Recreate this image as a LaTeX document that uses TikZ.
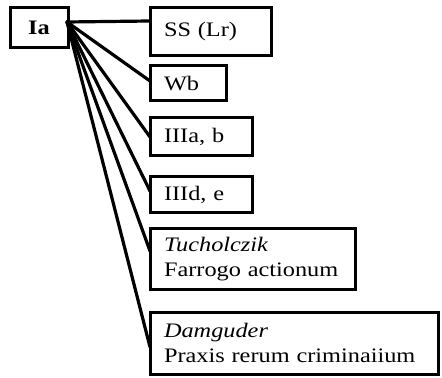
\documentclass[tikz,border=0pt]{standalone}
\usepackage{fontspec}
\setmainfont{Liberation Serif}[FakeStretch=1.18]
\usetikzlibrary{positioning}
\tikzset{
  tr/root/.style={rectangle, draw, line width=1.5pt, anchor=north west,
    outer sep=0pt, minimum width=29pt, minimum height=20pt,
    font=\fontsize{10.3}{12.5}\selectfont\bfseries},
  tr/box/.style={rectangle, draw, line width=1.5pt, anchor=north west,
    outer sep=0pt, align=left, inner ysep=0pt, inner xsep=7pt,
    font=\fontsize{10.3}{12.5}\selectfont},
  tr/link/.style={line width=1.6pt, line cap=round, line join=round}
}
\begin{document}
\begin{tikzpicture}
  \useasboundingbox (0,0) rectangle (221pt,-189pt);
  \node[tr/root] (ia) at (5pt,-4pt) {Ia};
  \node[tr/box, text width=46.5pt, minimum height=24pt,
        right=41pt of ia.north east, anchor=north west] (ss) {SS (Lr)};
  \node[tr/box, text width=24pt, minimum height=17.5pt,
        below=5pt of ss.south west, anchor=north west] (wb) {Wb};
  \node[tr/box, text width=37pt, minimum height=19pt,
        below=8.5pt of wb.south west, anchor=north west] (iiiab) {IIIa, b};
  \node[tr/box, text width=37pt, minimum height=18pt,
        below=10.5pt of iiiab.south west, anchor=north west] (iiide) {IIId, e};
  \node[tr/box, text width=88.5pt, minimum height=30pt,
        below=8pt of iiide.south west, anchor=north west] (tuch)
        {\textit{Tucholczik}\\Farrogo actionum};
  \node[tr/box, text width=130pt, minimum height=31pt,
        below=11.5pt of tuch.south west, anchor=north west] (damg)
        {\textit{Damguder}\\Praxis rerum criminaiium};

  \coordinate (hub) at ([xshift=-0.5pt, yshift=-7pt]ia.north east);

  \draw[tr/link] (hub) -- ([yshift=-6.5pt]ss.north west);
  \draw[tr/link] (hub) -- ([yshift=-7.5pt]wb.north west);
  \draw[tr/link] (hub) -- ([yshift=-9.5pt]iiiab.north west);
  \draw[tr/link] (hub) -- ([yshift=-7pt]iiide.north west);
  \draw[tr/link] (hub) -- ([yshift=-11pt]tuch.north west);
  \draw[tr/link] (hub) -- ([yshift=-17.5pt]damg.north west);
\end{tikzpicture}
\end{document}
